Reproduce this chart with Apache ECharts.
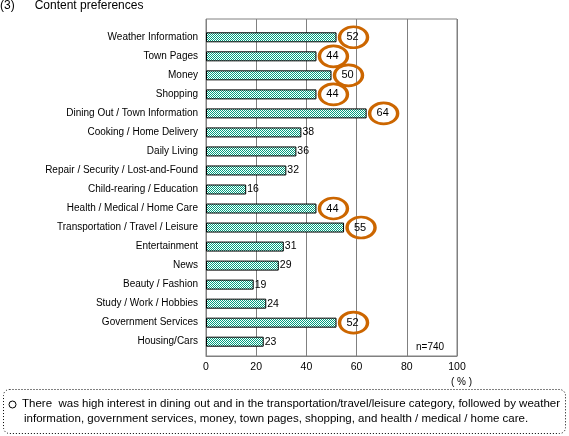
<!DOCTYPE html>
<html><head><meta charset="utf-8">
<script src="https://cdn.jsdelivr.net/npm/echarts@6/dist/echarts.min.js"></script>
<style>html,body{margin:0;padding:0;background:#fff}#c{width:569px;height:436px}</style>
</head><body><div id="c"></div>
<script>
const categories = ["Weather Information","Town Pages","Money","Shopping","Dining Out / Town Information","Cooking / Home Delivery","Daily Living","Repair / Security / Lost-and-Found","Child-rearing / Education","Health / Medical / Home Care","Transportation / Travel / Leisure","Entertainment","News","Beauty / Fashion","Study / Work / Hobbies","Government Services","Housing/Cars"];
const values = [52,44,50,44,64,38,36,32,16,44,55,31,29,19,24,52,23];
const highlighted = [true,true,true,true,true,false,false,false,false,true,true,false,false,false,false,true,false];
const xTicks = [0,20,40,60,80,100];
const titleText = "(3)      Content preferences";
const noteLines = ["There  was high interest in dining out and in the transportation/travel/leisure category, followed by weather","information, government services, money, town pages, shopping, and health / medical / home care."];
const sampleText = "n=740";
const unitText = "( % )";

const FONT = '"Liberation Sans", Arial, sans-serif';
const pc = document.createElement('canvas');
pc.width = 2; pc.height = 2;
const px = pc.getContext('2d');
px.fillStyle = '#ffffff'; px.fillRect(0,0,2,2);
px.fillStyle = '#00a080'; px.fillRect(0,0,1,1); px.fillRect(1,1,1,1);

const chart = echarts.init(document.getElementById('c'), null, {renderer:'canvas'});
const barData = values.map((v,i)=>({
  value: v,
  label: {show: !highlighted[i]}
}));
const circleData = [];
values.forEach((v,i)=>{ if(highlighted[i]) circleData.push([v, categories[i]]); });

chart.setOption({
  animation: false,
  textStyle: {fontFamily: FONT},
  grid: [
    {left:206, top:19, width:251, height:337, show:true, borderColor:'#808080', borderWidth:1, containLabel:false},
    {left:206, top:27.8, width:251, height:323.4, containLabel:false}
  ],
  xAxis: [
    {gridIndex:0, type:'value', min:0, max:100, interval:20,
     axisLine:{show:true, lineStyle:{color:'#808080'}}, axisTick:{show:false},
     splitLine:{show:true, lineStyle:{color:'#808080', width:1}},
     axisLabel:{color:'#000', fontSize:10.5, margin:6, fontFamily:FONT,
       formatter: v => xTicks.includes(v) ? String(v) : ''}},
    {gridIndex:1, type:'value', min:0, max:100, show:false}
  ],
  yAxis: [
    {gridIndex:0, type:'value', show:false, splitLine:{show:false}},
    {gridIndex:1, type:'category', data:categories, inverse:true,
     axisLine:{show:false}, axisTick:{show:false}, splitLine:{show:false},
     axisLabel:{color:'#000', fontSize:10, margin:8, fontFamily:FONT}}
  ],
  series: [
    {type:'bar', xAxisIndex:1, yAxisIndex:1, data:barData, barWidth:10,
     itemStyle:{color:{image:pc, repeat:'repeat'}, borderColor:'#000', borderWidth:1},
     label:{position:'right', distance:1, color:'#000', fontSize:10.5, fontFamily:FONT}},
    {type:'scatter', xAxisIndex:1, yAxisIndex:1, data:circleData, symbol:'circle',
     symbolSize:[28,21], symbolOffset:[17,0], z:5,
     itemStyle:{color:'rgba(0,0,0,0)', borderColor:'#cc6600', borderWidth:3, opacity:1},
     label:{show:true, position:'inside', color:'#000', fontSize:11, fontFamily:FONT,
       offset:[-1,0], formatter: p => String(p.value[0])}}
  ],
  graphic: [
    {type:'text', left:0, top:0, style:{text:titleText, font:'12px '+FONT, fill:'#000'}},
    {type:'text', left:416, top:342, style:{text:sampleText, font:'10px '+FONT, fill:'#000'}},
    {type:'text', left:451, top:377, style:{text:unitText, font:'10px '+FONT, fill:'#000'}},
    {type:'rect', shape:{x:3.5, y:389.5, width:562, height:44, r:6},
     style:{fill:'none', stroke:'#000', lineWidth:1, lineDash:[1,2]}},
    {type:'circle', shape:{cx:12.5, cy:404.5, r:3.5}, style:{fill:'none', stroke:'#000', lineWidth:1}},
    {type:'text', x:22, y:398, style:{text:noteLines[0], font:'11.5px '+FONT, fill:'#000'}},
    {type:'text', x:24, y:413, style:{text:noteLines[1], font:'11.5px '+FONT, fill:'#000'}}
  ]
});
</script></body></html>
